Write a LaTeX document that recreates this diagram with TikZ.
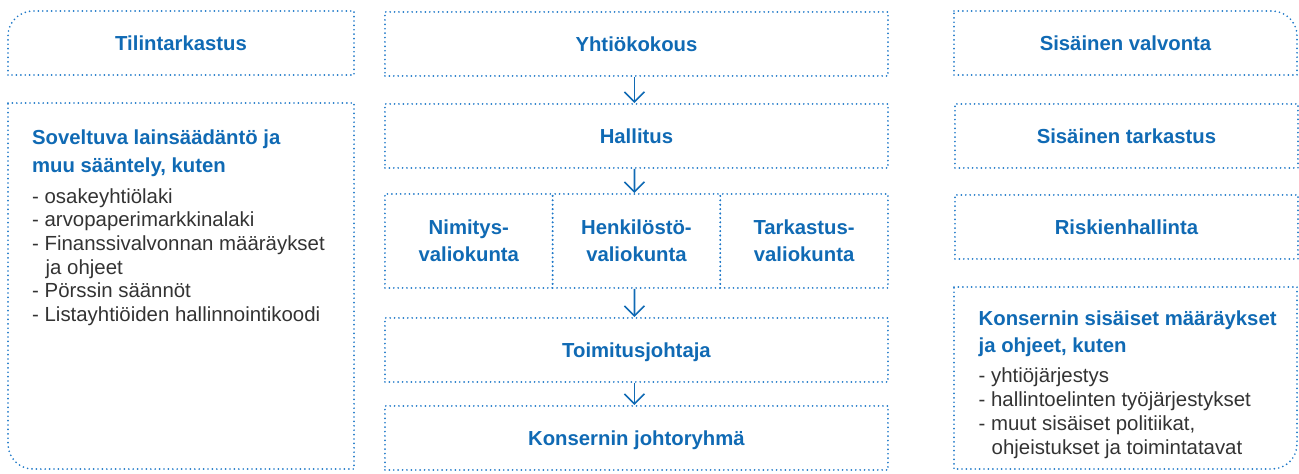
\documentclass[tikz,border=0pt]{standalone}
\usepackage{fontspec}
\setmainfont{Liberation Sans}
\usetikzlibrary{arrows.meta}
\definecolor{tblue}{HTML}{106AB4}
\definecolor{dblue}{HTML}{1E78C8}
\definecolor{tgray}{HTML}{333333}
\newcommand\myttlfont{\bfseries\fontsize{20.3}{27}\selectfont}
\newcommand\mybodyfont{\fontsize{20.4}{23.6}\selectfont}
\tikzset{
  dotline/.style={draw=dblue, line width=1.9pt, line cap=round, dash pattern=on 0pt off 4.4pt},
  onebox/.style={dotline, inner sep=0pt, anchor=north west, text=tblue, font=\myttlfont,
    text height=14.6pt, text depth=0pt},
  midbox/.style={onebox, minimum width=503pt, minimum height=64pt},
  sidebox/.style={onebox, minimum width=343pt, minimum height=64pt},
  combox/.style={dotline, inner sep=0pt, anchor=north west, text=tblue, font=\myttlfont,
    align=center, minimum width=167.67pt, minimum height=94pt},
  ttl/.style={inner sep=0pt, anchor=base, text=tblue, font=\myttlfont},
  ttlL/.style={inner sep=0pt, anchor=base west, text=tblue, font=\myttlfont},
  bodyL/.style={inner sep=0pt, anchor=base west, text=tgray, font=\mybodyfont},
  arr/.style={draw=tblue, line width=1.6pt, -{Straight Barb[length=10pt,width=20pt,line width=1.6pt]}}
}
\begin{document}
\begin{tikzpicture}[x=1pt,y=-1pt]
\useasboundingbox (0,0) rectangle (1299,474);
% left column
\draw[dotline] (8,75) -- (8,36) arc[start angle=180,end angle=270,radius=25] -- (354,11) -- (354,75) -- cycle;
\node[ttl] (tilin) at (181,50.3) {Tilintarkastus};
\draw[dotline] (8,103) -- (354,103) -- (354,469) -- (33,469) arc[start angle=90,end angle=180,radius=25] -- cycle;
\node[ttlL] (sov1) at (32,144) {Soveltuva lainsäädäntö ja};
\node[ttlL] (sov2) at (32,172) {muu sääntely, kuten};
\node[bodyL] (l1) at (32,203.3) {- osakeyhtiölaki};
\node[bodyL] (l2) at (32,226.9) {- arvopaperimarkkinalaki};
\node[bodyL] (l3) at (32,250.5) {- Finanssivalvonnan määräykset};
\node[bodyL] (l4) at (45.5,274.1) {ja ohjeet};
\node[bodyL] (l5) at (32,297.7) {- Pörssin säännöt};
\node[bodyL] (l6) at (32,321.3) {- Listayhtiöiden hallinnointikoodi};
% middle column
\node[midbox] (yk) at (384,11) {Yhtiökokous};
\node[midbox] (hall) at (384,103) {Hallitus};
\node[combox] (nim) at (384,193) {Nimitys-\\valiokunta};
\node[combox] (hen) at (551.67,193) {Henkilöstö-\\valiokunta};
\node[combox] (tar) at (719.33,193) {Tarkastus-\\valiokunta};
\node[midbox] (toim) at (384,317) {Toimitusjohtaja};
\node[midbox] (kjr) at (384,405) {Konsernin johtoryhmä};
\draw[arr] ([xshift=-2pt]yk.south) -- ([xshift=-2pt]hall.north);
\draw[arr] ([xshift=-2pt]hall.south) -- ([xshift=-2pt]hen.north);
\draw[arr] ([xshift=-2pt]hen.south) -- ([xshift=-2pt]toim.north);
\draw[arr] ([xshift=-2pt]toim.south) -- ([xshift=-2pt]kjr.north);
% right column
\draw[dotline] (954,11) -- (1272,11) arc[start angle=270,end angle=360,radius=25] -- (1297,75) -- (954,75) -- cycle;
\node[ttl] (sval) at (1125.5,50.3) {Sisäinen valvonta};
\node[sidebox] (star) at (954,103) {Sisäinen tarkastus};
\node[sidebox] (risk) at (954,194) {Riskienhallinta};
\draw[dotline] (954,287) -- (1297,287) -- (1297,444) arc[start angle=0,end angle=90,radius=25] -- (954,469) -- cycle;
\node[ttlL] (kon1) at (978.5,325) {Konsernin sisäiset määräykset};
\node[ttlL] (kon2) at (978.5,352.7) {ja ohjeet, kuten};
\node[bodyL] (r1) at (978.5,382.7) {- yhtiöjärjestys};
\node[bodyL] (r2) at (978.5,406.5) {- hallintoelinten työjärjestykset};
\node[bodyL] (r3) at (978.5,430.2) {- muut sisäiset politiikat,};
\node[bodyL] (r4) at (991.5,454) {ohjeistukset ja toimintatavat};
\end{tikzpicture}
\end{document}
